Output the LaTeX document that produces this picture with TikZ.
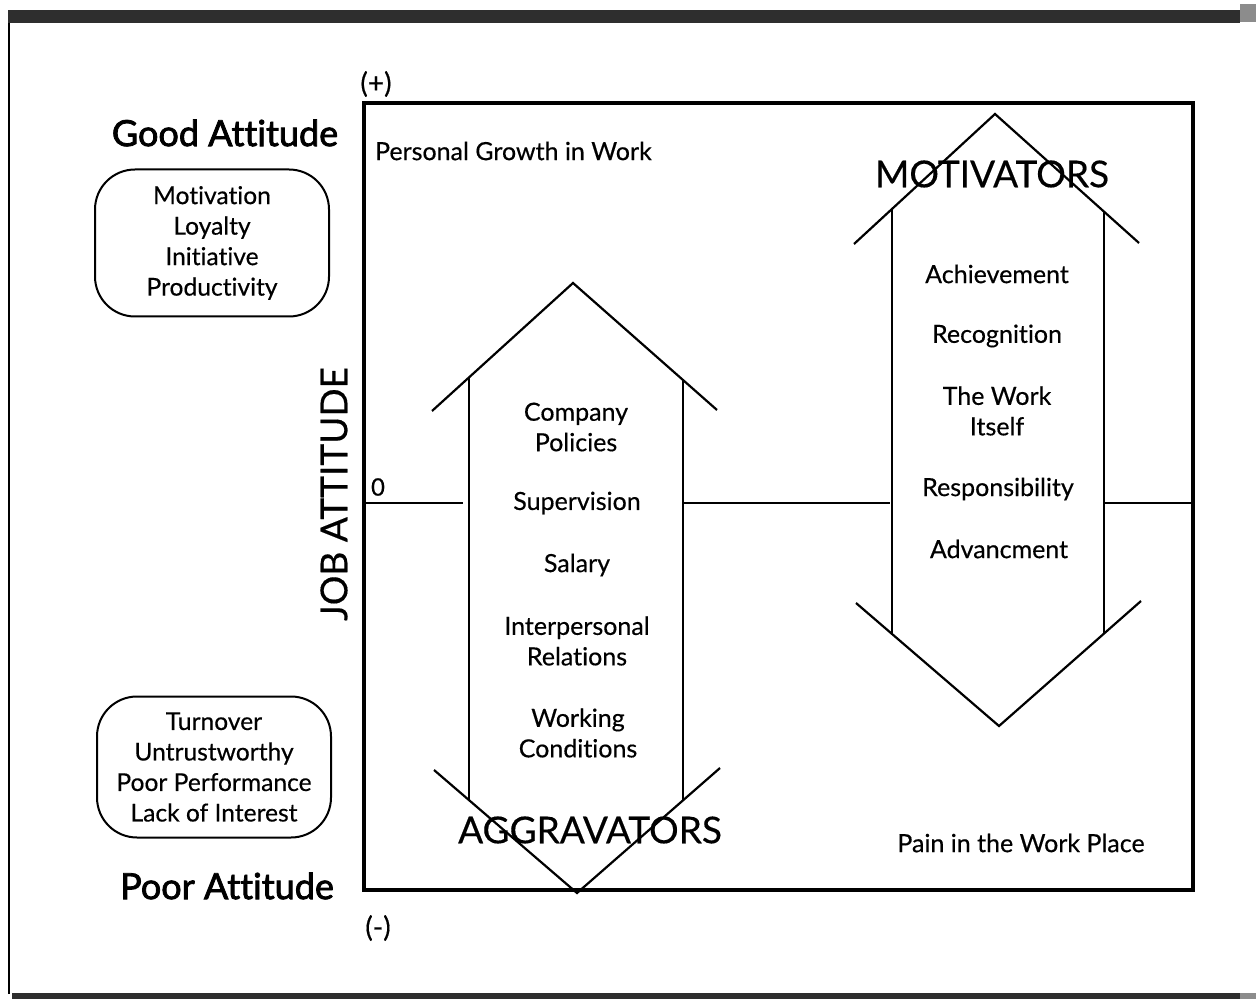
\documentclass[tikz,border=0pt]{standalone}
\usepackage{fontspec}
\setmainfont{Lato}[Ligatures=NoCommon, FakeBold=0.4]
\newfontfamily\attfont{Lato}[Ligatures=NoCommon, FakeBold=2.2]
\usetikzlibrary{positioning}

\definecolor{scan}{HTML}{2E2E2E}

\begin{document}
\begin{tikzpicture}[
        x=0.5pt, y=-0.5pt,
        frame/.style={line width=1.8pt},
        axis/.style={line width=0.8pt},
        arrowline/.style={line width=1.1pt, line join=miter},
        factor/.style={font=\fontsize{12.5}{15.25}\selectfont, align=center},
        heading/.style={font=\fontsize{18.5}{21}\selectfont},
        attitude/.style={font=\attfont\fontsize{18}{21}\selectfont},
        sign/.style={font=\fontsize{14}{16}\selectfont},
        outcome/.style={draw, line width=1pt, rounded corners=20pt, align=center,
            font=\fontsize{12.3}{15.25}\selectfont, minimum width=117pt, inner sep=0pt}
    ]
    \useasboundingbox (0,0) rectangle (1256,999);

    % Page edges of the scan
    \fill[scan] (8,10) rectangle (1240,23);
    \fill[scan!55] (1240,4) rectangle (1256,22);
    \draw[line width=1pt] (9,23) -- (9,994);
    \fill[scan] (12,993) rectangle (1240,999);
    \fill[scan!55] (1240,993) rectangle (1256,999);

    % Job attitude chart
    \draw[frame] (364,103) rectangle (1193,890);
    \node[sign] (plus) at (376,84) {(+)};
    \node[sign] (minus) at (378,928) {(-)};
    \node[sign, font=\fontsize{12}{14}\selectfont] (zero) at (378,487) {0};
    \node[heading, rotate=90] (job) at (334,494) {JOB ATTITUDE};

    % Neutral line
    \draw[axis] (364,503) -- (463,503);
    \draw[axis] (682,503) -- (890,503);
    \draw[axis] (1105,503) -- (1193,503);

    % Left side: attitudes
    \node[attitude] (good) at (225,133) {Good Attitude};
    \node[attitude] (poor) at (227,886) {Poor Attitude};
    \node[outcome, minimum height=73.5pt] (goodbox) at (212,243)
        {Motivation\\Loyalty\\Initiative\\Productivity};
    \node[outcome, minimum height=70.5pt] (poorbox) at (214,767)
        {Turnover\\Untrustworthy\\Poor Performance\\Lack of Interest};

    % Aggravators (double arrow)
    \draw[arrowline] (432,411) -- (573,283) -- (717,410);
    \draw[arrowline] (469,377) -- (469,800);
    \draw[arrowline] (683,380) -- (683,800);
    \draw[arrowline] (434,770) -- (577,893) -- (720,768);
    \node[factor] (policies) at (576,427) {Company\\Policies};
    \node[factor] (supervision) at (577,503) {Supervision};
    \node[factor] (salary) at (577,565) {Salary};
    \node[factor] (relations) at (577,641) {Interpersonal\\Relations};
    \node[factor] (conditions) at (578,733) {Working\\Conditions};
    \node[heading] (aggravators) at (590,830) {AGGRAVATORS};

    % Motivators (double arrow)
    \draw[arrowline] (854,244) -- (995,114) -- (1139,243);
    \draw[arrowline] (892,210) -- (892,634);
    \draw[arrowline] (1104,211) -- (1104,634);
    \draw[arrowline] (856,603) -- (999,726) -- (1141,601);
    \node[heading] (motivators) at (992,174) {MOTIVATORS};
    \node[factor] (achievement) at (997,274) {Achievement};
    \node[factor] (recognition) at (997,336) {Recognition};
    \node[factor] (work) at (997,411) {The Work\\Itself};
    \node[factor] (responsibility) at (998,489) {Responsibility};
    \node[factor] (advancement) at (999,549) {Advancment};

    % Ends of the scale
    \node[factor, anchor=west] (growth) at (368,151) {Personal Growth in Work};
    \node[factor] (pain) at (1021,843) {Pain in the Work Place};

\end{tikzpicture}
\end{document}
